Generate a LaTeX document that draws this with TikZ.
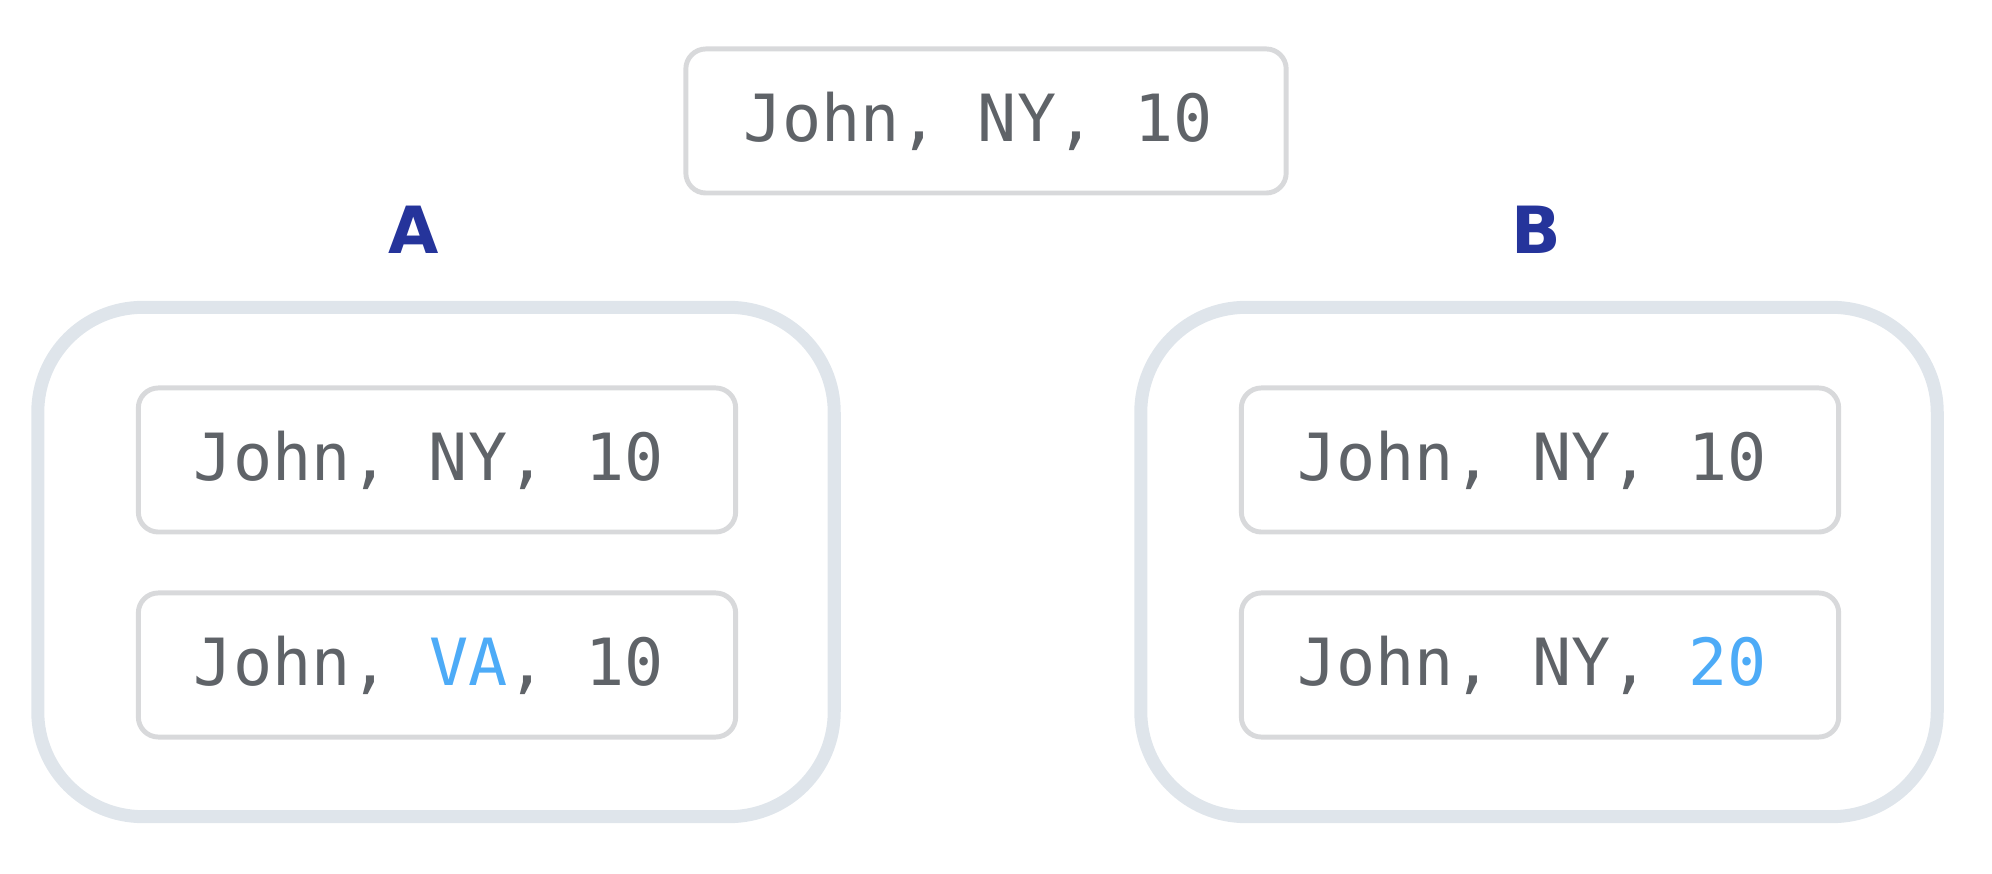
\documentclass[tikz,border=0pt]{standalone}
\usepackage{fontspec}
\newfontfamily\rowfont{DejaVu Sans Mono}
\newfontfamily\titlefont{DejaVu Sans}
\definecolor{rowgray}{RGB}{95,99,104}
\definecolor{rowedge}{RGB}{216,217,219}
\definecolor{groupedge}{RGB}{223,229,235}
\definecolor{changed}{RGB}{77,171,247}
\definecolor{groupblue}{RGB}{37,52,155}
\tikzset{
  rowbox/.style={draw=rowedge,line width=1.4pt,rounded corners=0.2cm,
    minimum width=5.97cm,minimum height=1.44cm,text=rowgray,
    execute at end node={\hspace{0.16cm}},
    font=\rowfont\fontsize{18.5}{22}\selectfont},
  groupbox/.style={draw=groupedge,line width=3.7pt,rounded corners=1.05cm,
    minimum width=7.96cm,minimum height=5.09cm},
  grouplabel/.style={text=groupblue,font=\titlefont\bfseries\fontsize{18.5}{22}\selectfont}
}

\begin{document}
\begin{tikzpicture}[x=0.01cm,y=-0.01cm]
  \useasboundingbox (0,0) rectangle (1992,874);

  % record before the split
  \node [rowbox,minimum width=6.0cm] (orig) at (986,121) {John, NY, 10};

  \node [grouplabel] (labelA) at (414,230) {A};
  \node [grouplabel] (labelB) at (1536,230) {B};

  % copy A
  \node [groupbox] (groupA) at (436,562) {};
  \node [rowbox] (rowA1) at (437,460) {John, NY, 10};
  \node [rowbox] (rowA2) at (437,665) {John, \textcolor{changed}{VA}, 10};

  % copy B
  \node [groupbox] (groupB) at (1539,562) {};
  \node [rowbox] (rowB1) at (1540,460) {John, NY, 10};
  \node [rowbox] (rowB2) at (1540,665) {John, NY, \textcolor{changed}{20}};
\end{tikzpicture}
\end{document}
